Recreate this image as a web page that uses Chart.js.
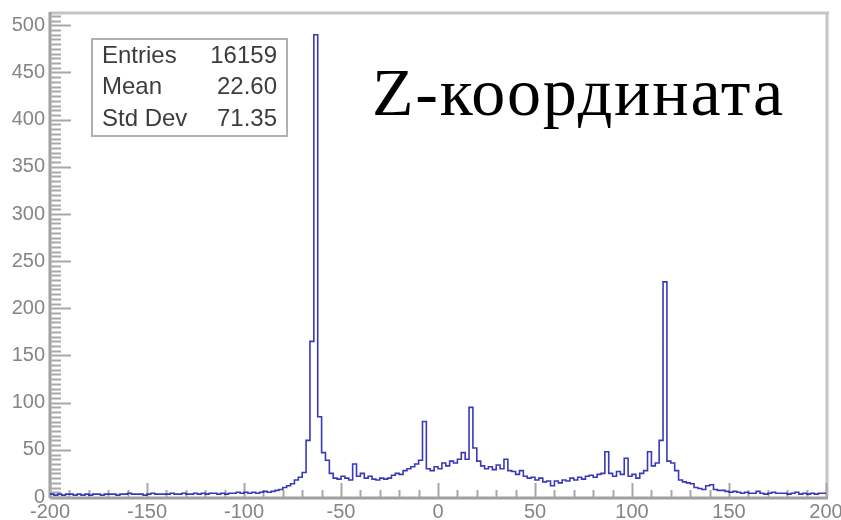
<!DOCTYPE html>
<html>
<head>
<meta charset="utf-8">
<script src="https://cdn.jsdelivr.net/npm/chart.js@4.4.1/dist/chart.umd.min.js"></script>
<style>
  html,body{margin:0;padding:0;background:#fff;}
  #wrap{width:841px;height:520px;}
</style>
</head>
<body>
<div id="wrap"><canvas id="zChart" width="841" height="520"></canvas></div>
<script>
// histogram: 2-unit bins from -200 to 200
const binStart = -200;
const binWidth = 2;
const counts = [
  2,3,2,3,2,3,3,2,3,2,        // -200 .. -180
  3,2,3,3,2,3,3,3,2,3,        // -180 .. -160
  3,4,3,3,3,2,3,4,3,3,        // -160 .. -140
  3,3,4,3,3,4,3,3,4,3,        // -140 .. -120
  4,3,4,4,3,4,3,4,4,5,        // -120 .. -100
  4,5,4,5,4,5,6,5,6,7,        // -100 .. -80
  8,10,12,14,18,21,26,60,165,490, // -80 .. -60
  85,47,39,25,20,19,22,20,18,35,  // -60 .. -40
  22,25,20,22,19,18,20,19,20,23,  // -40 .. -20
  25,24,28,30,32,35,39,80,30,28,  // -20 .. 0
  32,30,36,33,38,36,40,47,40,95,  // 0 .. 20
  52,38,33,30,32,29,34,30,40,28,  // 20 .. 40
  27,24,28,22,20,21,18,20,16,17,  // 40 .. 60
  12,17,15,18,17,20,18,21,19,22,  // 60 .. 80
  23,21,24,25,48,25,22,27,24,41,  // 80 .. 100
  22,24,20,25,28,48,33,36,60,228, // 100 .. 120
  38,36,28,18,16,15,14,10,9,8,    // 120 .. 140
  12,13,8,7,7,6,5,6,5,4,          // 140 .. 160
  5,4,4,6,4,3,4,5,4,4,            // 160 .. 180
  4,3,4,5,3,4,3,4,3,4             // 180 .. 200
];
const xTicks = [-200,-150,-100,-50,0,50,100,150,200];
const yTicks = [0,50,100,150,200,250,300,350,400,450,500];
const statNames = ['Entries','Mean','Std Dev'];
const statValues = ['16159','22.60','71.35'];
const titleText = 'Z-координата';

const points = counts.map((c,i)=>({x: binStart + i*binWidth, y: c}));
points.push({x: binStart + counts.length*binWidth, y: counts[counts.length-1]});

// ROOT-like frame, inward ticks, labels, stats box and title
const rootFrame = {
  id:'rootFrame',
  beforeDatasetsDraw(chart){
    const {ctx, chartArea:a, scales:{x,y}} = chart;
    ctx.save();
    // frame top/right
    ctx.strokeStyle = '#c4c4c4';
    ctx.lineWidth = 3;
    ctx.beginPath();
    ctx.moveTo(a.left, a.top-1); ctx.lineTo(a.right+3, a.top-1);
    ctx.moveTo(a.right+1, a.top-1); ctx.lineTo(a.right+1, a.bottom);
    ctx.stroke();
    // axes
    ctx.strokeStyle = '#a0a0a0';
    ctx.beginPath();
    ctx.moveTo(a.left, a.top-2); ctx.lineTo(a.left, a.bottom+1);
    ctx.moveTo(a.left, a.bottom+1); ctx.lineTo(a.right+2, a.bottom+1);
    ctx.stroke();
    // ticks
    ctx.lineWidth = 2;
    ctx.strokeStyle = '#a8a8a8';
    ctx.beginPath();
    for(let v=0; v<=510; v+=5){
      const py = Math.round(y.getPixelForValue(v))+0.5;
      const len = v%50===0 ? 21 : 11;
      ctx.moveTo(a.left, py); ctx.lineTo(a.left+len, py);
    }
    for(let v=-200; v<=200; v+=10){
      const px = Math.round(x.getPixelForValue(v))+0.5;
      const len = v%50===0 ? 14 : 7;
      ctx.moveTo(px, a.bottom); ctx.lineTo(px, a.bottom-len);
    }
    ctx.stroke();
    // tick labels
    ctx.fillStyle = '#858585';
    ctx.font = '20px "Liberation Sans", Arial, sans-serif';
    ctx.textAlign = 'right'; ctx.textBaseline = 'middle';
    yTicks.forEach(v=>ctx.fillText(String(v), a.left-5, y.getPixelForValue(v)));
    ctx.textAlign = 'center'; ctx.textBaseline = 'top';
    xTicks.forEach(v=>ctx.fillText(String(v), x.getPixelForValue(v), a.bottom+5));
    ctx.restore();
  },
  afterDraw(chart){
    const {ctx} = chart;
    ctx.save();
    // stats box
    ctx.fillStyle = '#fff';
    ctx.fillRect(92,39,195,97);
    ctx.strokeStyle = '#b0b0b0';
    ctx.lineWidth = 2;
    ctx.strokeRect(92,39,195,97);
    ctx.fillStyle = '#3c3c3c';
    ctx.font = '24px "Liberation Sans", Arial, sans-serif';
    ctx.textBaseline = 'middle';
    statNames.forEach((n,i)=>{
      const cy = 56 + i*31.5;
      ctx.textAlign = 'left'; ctx.fillText(n, 102, cy);
      ctx.textAlign = 'right'; ctx.fillText(statValues[i], 277, cy);
    });
    // title
    ctx.fillStyle = '#000';
    ctx.font = '68px "Liberation Serif", "Times New Roman", serif';
    ctx.letterSpacing = '1.8px';
    ctx.textAlign = 'left'; ctx.textBaseline = 'alphabetic';
    ctx.fillText(titleText, 372, 115);
    ctx.restore();
  }
};

new Chart(document.getElementById('zChart').getContext('2d'), {
  type:'line',
  data:{ datasets:[{ data: points, stepped:'after', borderColor:'rgba(35,35,175,0.9)', borderWidth:1.6, pointRadius:0, fill:false }] },
  options:{
    responsive:false, animation:false, devicePixelRatio:1,
    layout:{ padding:{ left:50, right:15, top:14, bottom:23 } },
    plugins:{ legend:{display:false}, tooltip:{enabled:false} },
    scales:{
      x:{ type:'linear', min:-200, max:200, display:false },
      y:{ min:0, max:512, display:false }
    }
  },
  plugins:[rootFrame]
});
</script>
</body>
</html>
